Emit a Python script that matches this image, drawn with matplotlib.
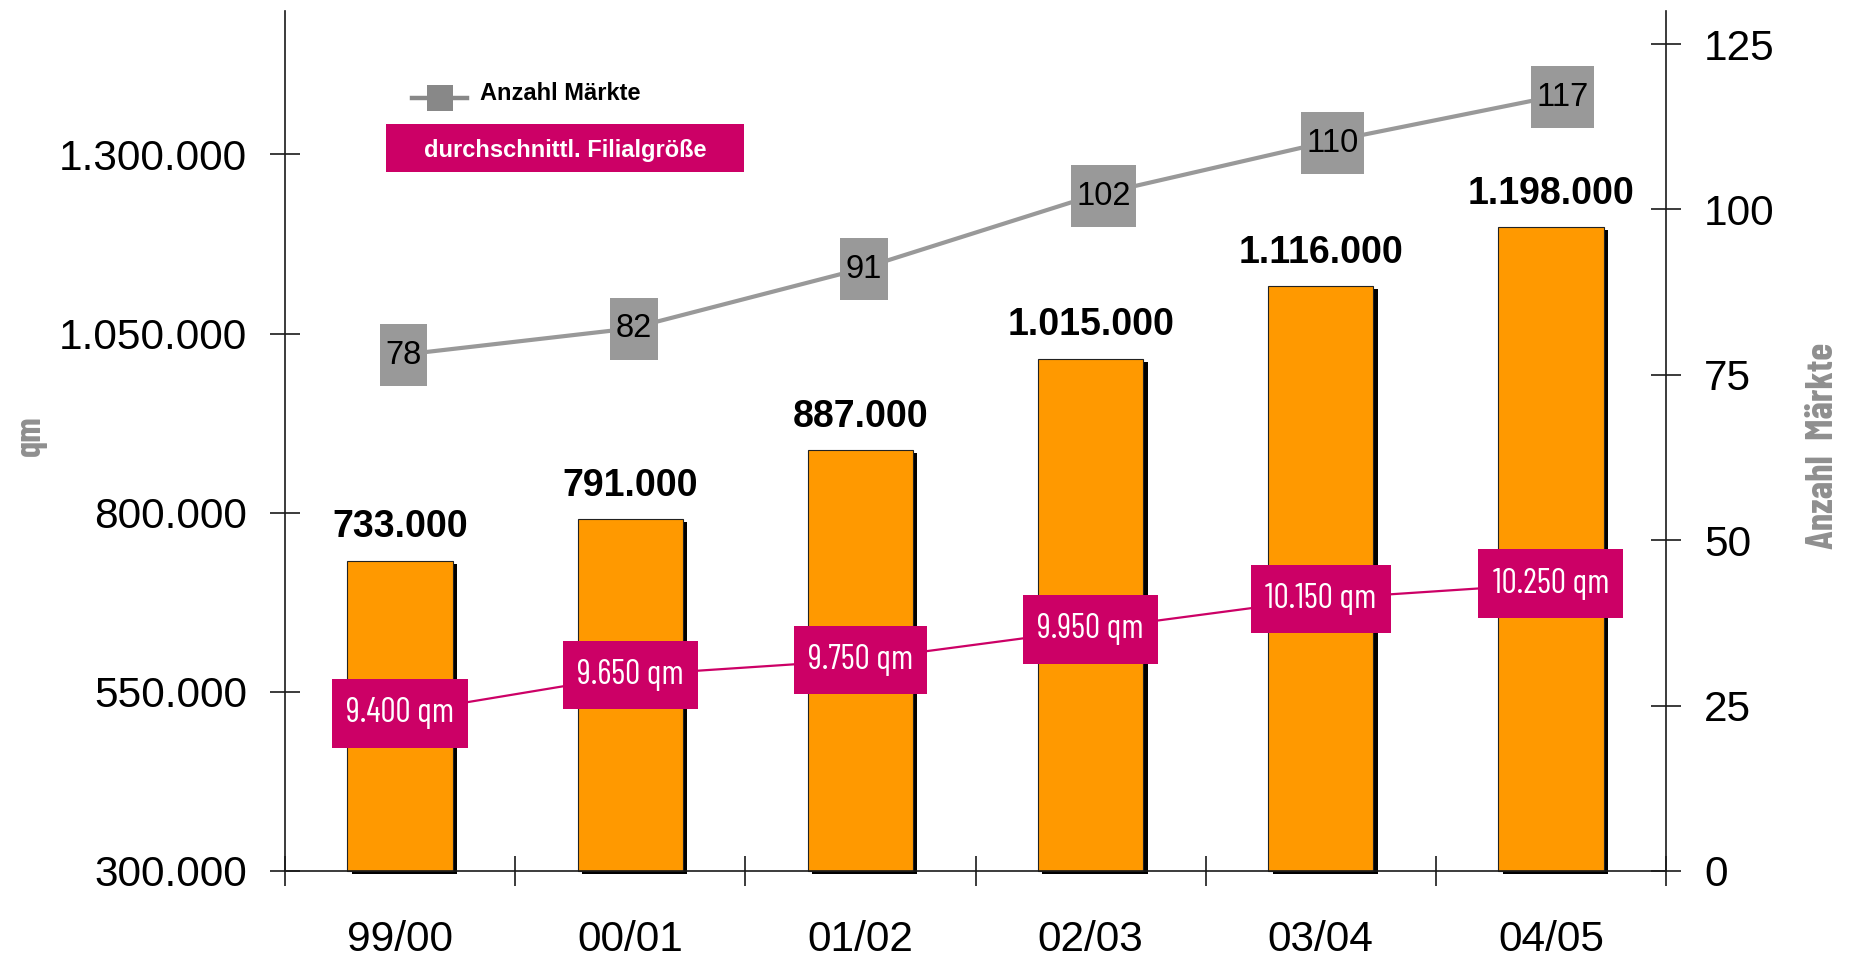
import matplotlib
matplotlib.use('Agg')
import matplotlib.pyplot as plt
from matplotlib import font_manager as fm
from matplotlib.lines import Line2D
from matplotlib.patches import Rectangle
import matplotlib.patheffects as pe
import numpy as np

# ---------------- data ----------------
categories = ['99/00', '00/01', '01/02', '02/03', '03/04', '04/05']
flaeche_qm = [733000, 791000, 887000, 1015000, 1116000, 1198000]
anzahl_maerkte = [78, 82, 91, 102, 110, 117]
filialgroesse_qm = [9400, 9650, 9750, 9950, 10150, 10250]
left_ticks = [300000, 550000, 800000, 1050000, 1300000]
right_ticks = [0, 25, 50, 75, 100, 125]


def de(n):
    return f'{n:,}'.replace(',', '.')


# ---------------- fonts ----------------
avail = {f.name for f in fm.fontManager.ttflist}
SANS = 'Liberation Sans' if 'Liberation Sans' in avail else 'DejaVu Sans'
COND = next((n for n in ['Barlow Condensed', 'Roboto Condensed', 'Liberation Sans Narrow']
             if n in avail), SANS)

ORANGE = '#FF9900'
MAGENTA = '#CC0066'
GRAY = '#999999'
AXC = '#1a1a1a'
TITLE_GRAY = '#8f8f8f'

W, H, DPI = 1850, 956, 100
fig = plt.figure(figsize=(W / DPI, H / DPI), dpi=DPI)
ax = fig.add_axes([285 / W, 1 - 871 / H, 1381 / W, 860 / H])
ax2 = ax.twinx()
ax3 = ax.twinx()

x = np.arange(len(categories))
ax.set_xlim(-0.5, len(categories) - 0.5)
ybot = 300000
ax.set_ylim(ybot, 1500000)
ax2.set_ylim(0, 130)
ax3.set_ylim(8366, 14005)

# bars with drop shadow
bars = ax.bar(x, [v - ybot for v in flaeche_qm], bottom=ybot, width=0.457,
              color=ORANGE, edgecolor='#222222', linewidth=0.8, zorder=2)
for b in bars:
    b.set_path_effects([pe.SimplePatchShadow(offset=(3.2, -2.2), shadow_rgbFace='black', alpha=1.0),
                        pe.Normal()])
    b.set_clip_on(False)
for xi, v in zip(x, flaeche_qm):
    ax.annotate(de(v), (xi, v), xytext=(0, 17), textcoords='offset points',
                ha='center', va='baseline', fontsize=27, fontweight='bold',
                family=SANS, color='black')

# ticks / spines
for a in (ax, ax2, ax3):
    a.spines['top'].set_visible(False)
ax.spines['right'].set_visible(False)
for s in ('left', 'bottom'):
    ax.spines[s].set_color(AXC)
    ax.spines[s].set_linewidth(1.2)
for s in ('left', 'bottom'):
    ax2.spines[s].set_visible(False)
ax2.spines['right'].set_color(AXC)
ax2.spines['right'].set_linewidth(1.2)
for s in ax3.spines.values():
    s.set_visible(False)
ax3.set_yticks([])

ax.set_yticks(left_ticks)
ax.set_yticklabels([de(t) for t in left_ticks])
ax.tick_params(axis='y', direction='inout', length=21.6, width=1.2, color=AXC,
               pad=16.6, labelsize=30.5)
for t in ax.get_yticklabels():
    t.set_family(SANS)

ax2.set_yticks(right_ticks)
ax2.set_yticklabels([str(t) for t in right_ticks])
ax2.tick_params(axis='y', direction='inout', length=21.6, width=1.2, color=AXC,
                pad=16.6, labelsize=30.5)
for t in ax2.get_yticklabels():
    t.set_family(SANS)

ax.set_xticks(x)
ax.set_xticklabels(categories)
ax.set_xticks(np.arange(-0.5, len(categories), 1.0), minor=True)
ax.tick_params(axis='x', which='major', length=0, pad=35.3, labelsize=30.5)
ax.tick_params(axis='x', which='minor', direction='inout', length=21.6, width=1.2, color=AXC)
for t in ax.get_xticklabels():
    t.set_family(SANS)

# gray line: Anzahl Märkte (labels are left-anchored boxes, as in the original)
ax2.plot(x, anzahl_maerkte, color=GRAY, lw=3, zorder=2, solid_capstyle='butt')
for xi, v in zip(x, anzahl_maerkte):
    ax2.annotate(str(v), (xi, v), xytext=(-10.4, 0), textcoords='offset points',
                 ha='left', va='center', fontsize=23.5, family=SANS,
                 color='black', zorder=3,
                 bbox=dict(boxstyle='square,pad=0.17', fc=GRAY, ec='none', mutation_aspect=2.8))

# magenta line: durchschnittliche Filialgröße
ax3.plot(x, filialgroesse_qm, color=MAGENTA, lw=1.6, zorder=2)
for xi, v in zip(x, filialgroesse_qm):
    ax3.text(xi, v, f'{de(v)} qm', ha='center', va='center', fontsize=24.5, family=COND,
             fontweight='normal', color='white', zorder=3,
             bbox=dict(boxstyle='square,pad=0.42', fc=MAGENTA, ec='none', mutation_aspect=1.28))

# axis titles
fig.text(31 / W, 1 - 436 / H, 'qm', rotation=90, ha='center', va='center',
         color=TITLE_GRAY, fontweight='bold', family=COND, fontsize=26)
fig.text(1823 / W, 1 - 446 / H, 'Anzahl  Märkte', rotation=90, ha='center', va='center',
         color=TITLE_GRAY, fontweight='bold', family=COND, fontsize=28)

# legend
fig.add_artist(Line2D([412 / W, 467 / W], [1 - 98 / H] * 2, color='#888888', lw=3.2,
                      transform=fig.transFigure))
fig.add_artist(Line2D([440 / W], [1 - 98 / H], marker='s', markersize=18.5, color='#888888',
                      markeredgewidth=0, linestyle='none', transform=fig.transFigure))
fig.text(480 / W, 1 - 100 / H, 'Anzahl Märkte', ha='left', va='baseline', fontsize=17,
         fontweight='bold', family=SANS, color='black')
fig.add_artist(Rectangle((386 / W, 1 - 172 / H), 358 / W, 48 / H, transform=fig.transFigure,
                         fc=MAGENTA, ec='none'))
fig.text(565 / W, 1 - 157 / H, 'durchschnittl. Filialgröße', ha='center', va='baseline',
         fontsize=17, fontweight='bold', family=SANS, color='white')

fig.savefig('out.png', dpi=DPI)
